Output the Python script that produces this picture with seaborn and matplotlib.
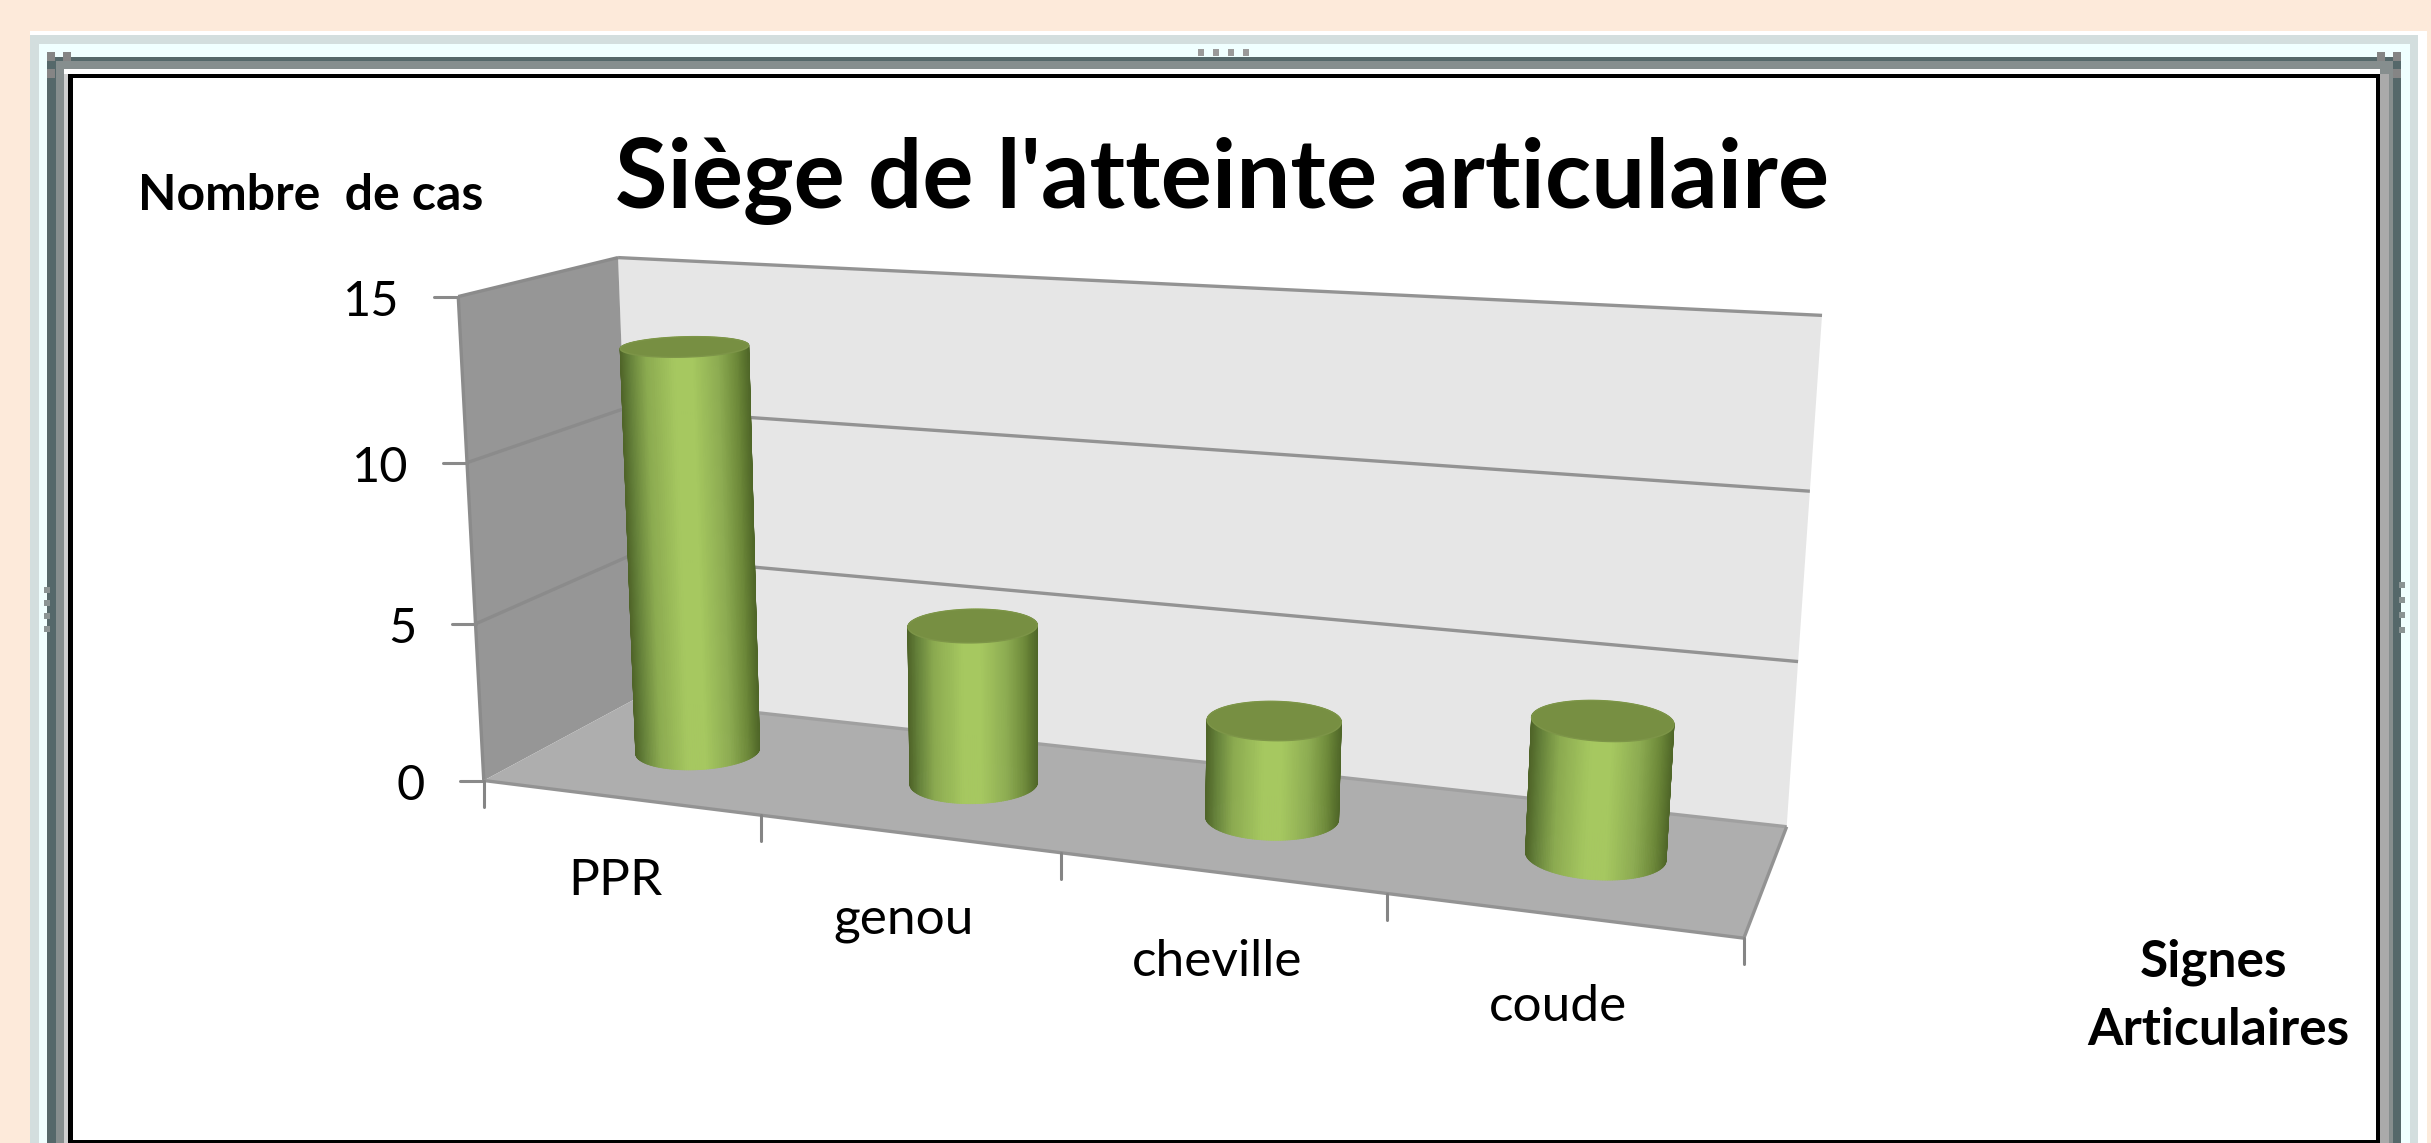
import numpy as np
import pandas as pd
import matplotlib
matplotlib.use('Agg')
import matplotlib.pyplot as plt
from matplotlib.collections import PolyCollection
from matplotlib.colors import LinearSegmentedColormap
from matplotlib.patches import Polygon, Rectangle
import seaborn as sns

categories = ['PPR', 'genou', 'cheville', 'coude']
cases = [13, 5, 3, 4]
value_ticks = [0, 5, 10, 15]

title = "Siège de l'atteinte articulaire"
y_name = 'Nombre  de cas'
x_name = 'Signes\nArticulaires'

# box corners (category pos, depth, value) and where they land in the image
box_3d = [(-0.5, 0, 15), (-0.5, 1, 15), (3.5, 1, 15), (-0.5, 0, 0), (-0.5, 1, 0),
          (3.5, 1, 0), (3.5, 0, 0), (0.5, 0, 0), (1.5, 0, 0), (2.5, 0, 0),
          (-0.5, 0, 10), (-0.5, 0, 5), (3.5, 1, 10), (3.5, 1, 5)]
box_px = [(455, 295), (622, 258), (1822, 317), (489, 780), (630, 703),
          (1788, 821), (1743, 943), (760, 815), (1062, 852), (1386, 895),
          (465, 464), (477, 620), (1809, 492), (1799, 660)]


def fit_camera(pts, pix):
    rows, rhs = [], []
    for (x, d, v), (u, w) in zip(pts, pix):
        rows.append([x, d, v, 1, 0, 0, 0, 0, -u * x, -u * d, -u * v])
        rows.append([0, 0, 0, 0, x, d, v, 1, -w * x, -w * d, -w * v])
        rhs += [u, w]
    m = np.linalg.lstsq(np.array(rows, float), np.array(rhs, float), rcond=None)[0]
    return np.append(m, 1).reshape(3, 4)


cam = fit_camera(box_3d, box_px)


def proj(x, d, v):
    x, d, v = np.broadcast_arrays(x, d, v)
    p = cam @ np.vstack([x.ravel(), d.ravel(), v.ravel(), np.ones(x.size)])
    return np.column_stack([p[0] / p[2], p[1] / p[2]])


sns.set_theme(style='white')
plt.rcParams['font.family'] = ['Lato', 'DejaVu Sans']

fig = plt.figure(figsize=(24.31, 11.43), dpi=100, facecolor='#FDEADA')

# pixel canvas for the frame and the box
ax = fig.add_axes([0, 0, 1, 1])
ax.set_xlim(0, 2431)
ax.set_ylim(1143, 0)
ax.set_axis_off()

frame = [(30, 31, 2427, '#FFFFFF'), (30, 35, 2418, '#D3DEDE'), (39, 44, 2410, '#F0FFFF'),
         (47, 57, 2401, '#55686A'), (56, 61, 2393, '#868E8E'), (64, 69, 2380, '#FFFFFF'),
         (68, 74, 2380, '#000000'), (73, 78, 2376, '#FFFFFF')]
for x0, y0, x1, col in frame:
    ax.add_patch(Rectangle((x0, y0), x1 - x0, 1143 - y0, fc=col, ec='none', zorder=1))
ax.add_patch(Rectangle((64, 74), 4, 1069, fc='#D0D0D0', ec='none', zorder=1))
ax.add_patch(Rectangle((2380, 74), 9, 1069, fc='#AAAAAA', ec='none', zorder=1))
ax.add_patch(Rectangle((73, 1140), 2303, 3, fc='#000000', ec='none', zorder=1))

# grips in the frame
for i in range(4):
    ax.add_patch(Rectangle((1198 + i * 15, 49), 6, 7, fc='#9A9A9A', ec='none', zorder=2))
    ax.add_patch(Rectangle((44, 587 + i * 13), 6, 6, fc='#8A9494', ec='none', zorder=2))
    ax.add_patch(Rectangle((2399, 582 + i * 15), 6, 6, fc='#8A9494', ec='none', zorder=2))
for gx, gy in [(47, 52), (63, 52), (47, 69), (2377, 52), (2393, 52), (2393, 69)]:
    ax.add_patch(Rectangle((gx, gy), 8, 9, fc='#858585', ec='none', zorder=2))

L, R, vmax = -0.5, 3.5, value_ticks[-1]
edge = '#939393'


def face(corners, col):
    pts = np.vstack([proj(*c) for c in corners])
    ax.add_patch(Polygon(pts, closed=True, fc=col, ec='none', zorder=3))


face([(L, 1, 0), (R, 1, 0), (R, 1, vmax), (L, 1, vmax)], '#E6E6E6')
face([(L, 0, 0), (L, 1, 0), (L, 1, vmax), (L, 0, vmax)], '#969696')
face([(L, 0, 0), (R, 0, 0), (R, 1, 0), (L, 1, 0)], '#AEAEAE')


def seg(a, b, col=edge, lw=2.4):
    pts = np.vstack([proj(*a), proj(*b)])
    ax.plot(pts[:, 0], pts[:, 1], color=col, lw=lw, zorder=4, solid_capstyle='butt')


for v in value_ticks:
    if v > 0:
        seg((L, 0, v), (L, 1, v), '#8B8B8B')
        seg((L, 1, v), (R, 1, v))
    tip = proj(L, 0, v)[0]
    ax.plot([tip[0] - 24, tip[0]], [tip[1], tip[1]], color='#8A8A8A', lw=2.2, zorder=4)
    ax.text(tip[0] - 59, tip[1] + 5, str(v), fontsize=35, ha='right', va='center',
            color='black', zorder=6)

seg((L, 0, 0), (L, 0, vmax), '#8B8B8B')
seg((L, 1, 0), (R, 1, 0), '#A0A0A0')
seg((L, 0, 0), (R, 0, 0))
seg((R, 0, 0), (R, 1, 0))

for pos in np.arange(L, R + 1):
    tip = proj(pos, 0, 0)[0]
    ax.plot([tip[0], tip[0]], [tip[1], tip[1] + 26], color='#858585', lw=2.2, zorder=4)

# the bars come from seaborn, then get drawn as cylinders in the box
df = pd.DataFrame({'siege': categories, 'cas': cases})
bar_ax = fig.add_axes([0, 0, 1, 1], facecolor='none')
sns.barplot(data=df, x='siege', y='cas', color='#A6C860', width=0.41, ax=bar_ax)
bar_ax.set_xlim(L, R)
bar_ax.set_ylim(0, vmax)
bar_ax.set_axis_off()

shade = LinearSegmentedColormap.from_list('cyl', [
    (0.0, '#4F6428'), (0.07, '#64803A'), (0.2, '#8BAA50'), (0.42, '#A6C860'),
    (0.56, '#A6C860'), (0.76, '#8DAC52'), (0.9, '#6E8A3A'), (1.0, '#4F6628')])

depth_r = 0.21
angles = np.linspace(0, 2 * np.pi, 181)
for patch in list(bar_ax.patches):
    patch.set_visible(False)
    cx = patch.get_x() + patch.get_width() / 2
    r = patch.get_width() / 2
    h = patch.get_height()
    xs = cx + r * np.cos(angles)
    ds = 0.53 + depth_r * np.sin(angles)
    low = proj(xs, ds, 0)
    top = proj(xs, ds, h)
    order = np.argsort(-(ds[:-1] + ds[1:]))
    quads = [np.array([low[i], low[i + 1], top[i + 1], top[i]]) for i in order]
    # shading follows the screen position across the bar
    mid = (low[:-1, 0] + low[1:, 0] + top[:-1, 0] + top[1:, 0]) / 4
    left = (low[:, 0].min() + top[:, 0].min()) / 2
    right = (low[:, 0].max() + top[:, 0].max()) / 2
    cols = shade(np.clip((mid[order] - left) / (right - left), 0, 1))
    ax.add_collection(PolyCollection(quads, facecolors=cols, edgecolors=cols,
                                     linewidths=0.6, zorder=5))
    ax.add_patch(Polygon(top, closed=True, fc='#778F42', ec='#7D9548', lw=1, zorder=5.5))

for pos, name in enumerate(categories):
    p = proj(pos, 0, 0)[0]
    ax.text(p[0] - 4, p[1] + 97 + 3 * pos, name, fontsize=37, ha='center', va='baseline',
            color='black', zorder=6)

ax.text(1222, 208, title, fontsize=69, fontweight='bold', ha='center', va='baseline',
        color='black', zorder=6)
ax.text(311, 210, y_name, fontsize=36, fontweight='bold', ha='center', va='baseline',
        color='black', zorder=6)
signes, articulaires = x_name.split('\n')
ax.text(2214, 977, signes, fontsize=37, fontweight='bold', ha='center', va='baseline',
        color='black', zorder=6)
ax.text(2218, 1045, articulaires, fontsize=37, fontweight='bold', ha='center', va='baseline',
        color='black', zorder=6)

fig.savefig('out.png', dpi=100, facecolor=fig.get_facecolor())
